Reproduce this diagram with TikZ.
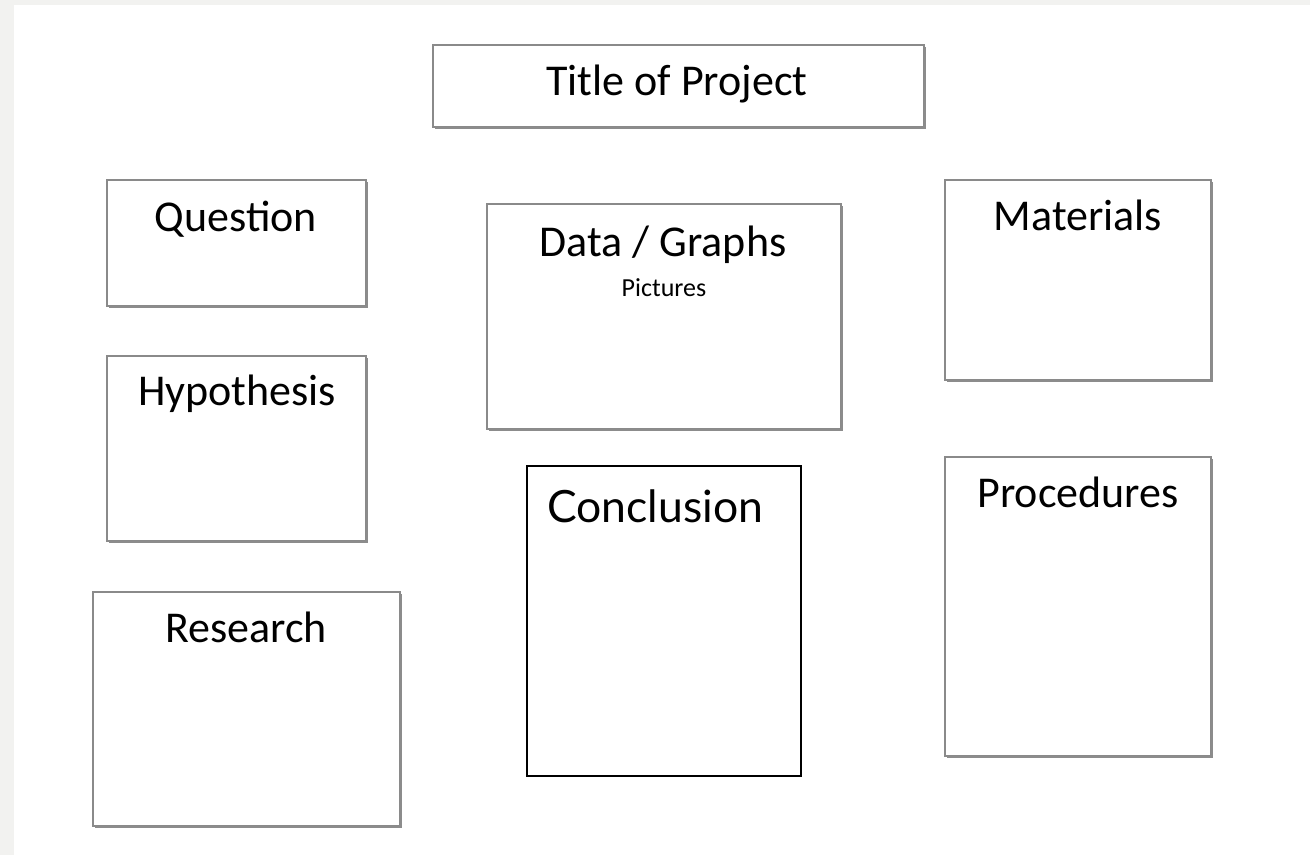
\documentclass[tikz,border=0pt]{standalone}
\usepackage{fontspec}
\setmainfont{Carlito}
\newfontfamily\concfont{Lato}
\definecolor{pagegray}{HTML}{F2F2F0}
\definecolor{edgegray}{HTML}{8A8A8A}
\definecolor{shadegray}{HTML}{8C8C8C}
\begin{document}
\begin{tikzpicture}[x=1pt,y=-1pt,
  pbox/.style={draw=edgegray,line width=1.2pt,fill=white,inner sep=0pt,outer sep=0pt},
  shade/.style={draw=shadegray,line width=2.6pt},
  lbl/.style={anchor=base,inner sep=0pt,font=\fontsize{44}{50}\selectfont},
  small/.style={anchor=base,inner sep=0pt,font=\fontsize{26}{30}\selectfont},
  cbox/.style={draw=black,line width=2pt,fill=white,inner sep=0pt,outer sep=0pt}]
\useasboundingbox (0,0) rectangle (1310,855);
\fill[pagegray] (0,0) rectangle (1310,855);
\fill[white] (14,5) rectangle (1310,855);
% boxes as named nodes: name / centre x / centre y / width / height
\foreach \n/\cx/\cy/\w/\h in {title/678.5/86/491/82, question/236.5/243/259/126, hypo/236.5/448.5/259/185, research/246.5/709/307/234, data/664/316.5/354/225, materials/1078/280/266/200, procedures/1078/606.5/266/299}{
  \node[pbox,minimum width=\w pt,minimum height=\h pt] (\n) at (\cx,\cy) {};
  \draw[shade] ([xshift=1pt,yshift=-2pt]\n.north east) -- ([xshift=1pt,yshift=-1pt]\n.south east) -- ([xshift=2pt,yshift=-1pt]\n.south west);
}
\node[cbox,minimum width=274pt,minimum height=310pt] (conclusion) at (664,621) {};
% labels
\node[lbl] (titletext) at (677,95) {Title of Project};
\node[lbl] (questiontext) at (236,231) {Question};
\node[lbl] (hypotext) at (237,405) {Hypothesis};
\node[lbl] (researchtext) at (246,642) {Research};
\node[lbl] (datatext) at (663,256) {Data / Graphs};
\node[small] (picturestext) at (664,296) {Pictures};
\node[lbl] (materialstext) at (1078,230) {Materials};
\node[lbl] (procedurestext) at (1078,507) {Procedures};
\node[anchor=base west,inner sep=0pt,font=\concfont\fontsize{44.5}{50}\selectfont] (conctext) at (547,522) {Conclusion};
\end{tikzpicture}
\end{document}
